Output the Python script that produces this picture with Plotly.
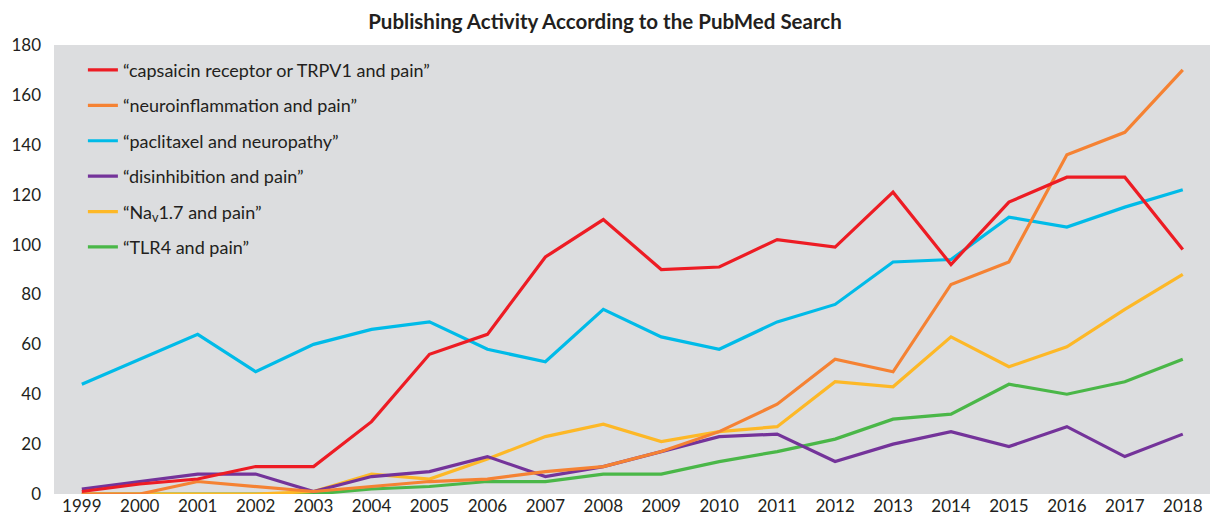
import plotly.graph_objects as go

years = list(range(1999, 2019))

capsaicin_trpv1 = [1, 4, 6, 11, 11, 29, 56, 64, 95, 110, 90, 91, 102, 99, 121, 92, 117, 127, 127, 98]
neuroinflammation = [0, 0, 5, 3, 1, 3, 5, 6, 9, 11, 17, 25, 36, 54, 49, 84, 93, 136, 145, 170]
paclitaxel = [44, 54, 64, 49, 60, 66, 69, 58, 53, 74, 63, 58, 69, 76, 93, 94, 111, 107, 115, 122]
disinhibition = [2, 5, 8, 8, 1, 7, 9, 15, 7, 11, 17, 23, 24, 13, 20, 25, 19, 27, 15, 24]
nav17 = [0, 0, 0, 0, 1, 8, 6, 14, 23, 28, 21, 25, 27, 45, 43, 63, 51, 59, 74, 88]
tlr4 = [0, 0, 0, 0, 0, 2, 3, 5, 5, 8, 8, 13, 17, 22, 30, 32, 44, 40, 45, 54]

series_names = [
    "\u201ccapsaicin receptor or TRPV1 and pain\u201d",
    "\u201cneuroinflammation and pain\u201d",
    "\u201cpaclitaxel and neuropathy\u201d",
    "\u201cdisinhibition and pain\u201d",
    "\u201cNa<sub>v</sub>1.7 and pain\u201d",
    "\u201cTLR4 and pain\u201d",
]
series_values = [capsaicin_trpv1, neuroinflammation, paclitaxel, disinhibition, nav17, tlr4]
series_colors = ["#ed1c24", "#f58233", "#00bbe8", "#74339a", "#fdb827", "#4ab748"]

# draw order: bottom-most lines first, legend order kept by legendrank
draw_order = [5, 4, 3, 2, 1, 0]

fig = go.Figure()
for i in draw_order:
    fig.add_trace(go.Scatter(
        x=years,
        y=series_values[i],
        name=series_names[i],
        mode="lines",
        line=dict(color=series_colors[i], width=3.2),
        legendgroup=f"g{i}",
        legendrank=i + 1,
    ))

fig.update_layout(
    width=1210,
    height=524,
    paper_bgcolor="white",
    plot_bgcolor="#dcdddf",
    margin=dict(l=54, r=0, t=45, b=30),
    font=dict(family="Lato, 'Open Sans', sans-serif", size=18, color="#231f20"),
    title=dict(
        text="<b>Publishing Activity According to the PubMed Search</b>",
        x=0.5,
        xanchor="center",
        y=0.958,
        yanchor="middle",
        font=dict(size=20.5, color="#231f20"),
    ),
    xaxis=dict(
        range=[1998.52, 2018.47],
        tickvals=years,
        ticktext=[str(y) for y in years],
        showgrid=False,
        zeroline=False,
        showline=False,
        ticks="",
        tickfont=dict(size=17),
    ),
    yaxis=dict(
        range=[0, 180],
        tickvals=list(range(0, 181, 20)),
        showgrid=False,
        zeroline=False,
        showline=False,
        ticks="",
        ticklabelstandoff=12,
        tickfont=dict(size=17),
    ),
    legend=dict(
        x=0.025,
        y=0.985,
        xanchor="left",
        yanchor="top",
        bgcolor="rgba(0,0,0,0)",
        traceorder="grouped",
        tracegroupgap=9,
        font=dict(size=18),
    ),
    showlegend=True,
)

fig.write_html("out.html")
